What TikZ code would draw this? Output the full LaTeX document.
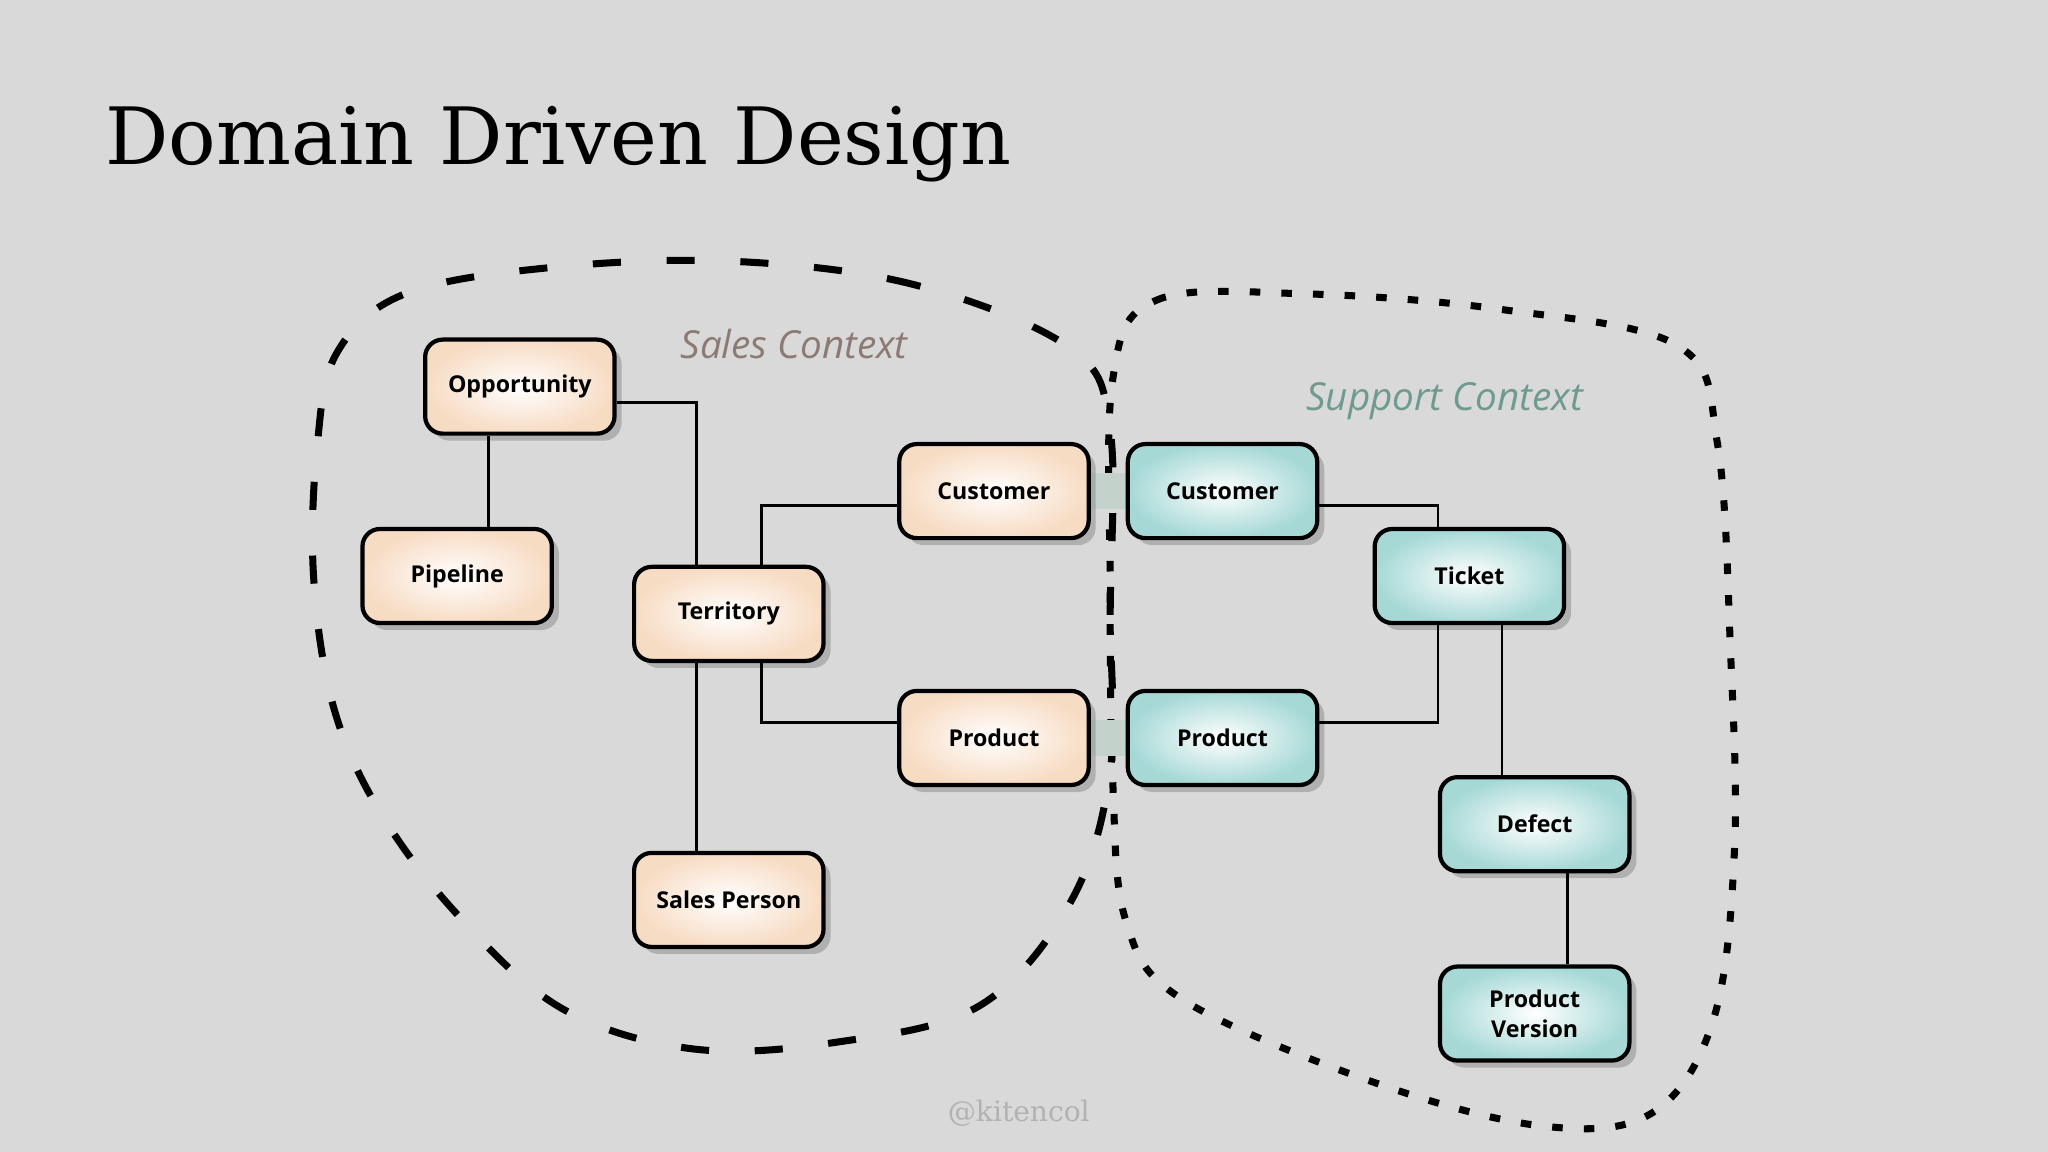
\documentclass[tikz,border=0pt]{standalone}
\usepackage{fontspec}
\setmainfont{DejaVu Serif}
\newfontfamily\boxfont{Open Sans}
\usetikzlibrary{shadows}
\definecolor{bg}{HTML}{D9D9D9}
\definecolor{peach}{HTML}{F7DCC4}
\definecolor{teal}{HTML}{A6D9D6}
\definecolor{bridge}{HTML}{C3D3CB}
\definecolor{salescol}{HTML}{8C7B74}
\definecolor{supportcol}{HTML}{6F9A8F}
\tikzset{
  entity/.style={draw, very thick, rounded corners=5pt, minimum width=145\px, minimum height=72\px,
    align=center, font=\boxfont\bfseries\fontsize{6.6}{8.5}\selectfont,
    drop shadow={shadow xshift=2pt, shadow yshift=-2pt, opacity=0.45}},
  sales/.style={entity, inner color=white, outer color=peach},
  support/.style={entity, inner color=white, outer color=teal},
  link/.style={thick},
  ctx/.style={font=\boxfont\itshape\fontsize{11}{13}\selectfont}
}
\newcommand{\px}{*0.013061cm}
\begin{document}
\begin{tikzpicture}[x=0.013061cm, y=-0.013061cm]
  \fill[bg] (0,0) rectangle (1568,882);
  \useasboundingbox (0,0) rectangle (1568,882);

  \node[anchor=base west, inner sep=0pt, font=\fontsize{22.5}{27}\selectfont] at (80,126) (title) {Domain Driven Design};

  % context boundaries
  \draw[line width=2pt, dash pattern=on 8pt off 13pt] plot[smooth cycle, tension=0.6] coordinates
    {(820,267) (700,218) (560,200) (420,205) (310,225) (258,270) (243,340) (240,440) (255,540)
     (290,620) (350,700) (430,772) (530,803) (640,798) (750,770) (820,690) (850,590) (850,470) (850,330)};
  \draw[line width=2pt, dash pattern=on 3pt off 6pt] plot[smooth cycle, tension=0.6] coordinates
    {(852,290) (885,230) (1000,225) (1150,237) (1285,265) (1315,340) (1325,500) (1328,650) (1312,780)
     (1265,852) (1180,862) (1050,828) (905,765) (862,705) (852,600) (850,450)};

  \node[ctx, text=salescol] at (608,263) (salesctx) {Sales Context};
  \node[ctx, text=supportcol] at (1106,307) (supportctx) {Support Context};

  % shared kernel bridges
  \fill[bridge] (830,362) rectangle (868,390);
  \fill[bridge] (830,551) rectangle (868,579);

  % sales entities
  \node[sales] at (398,296) (opportunity) {Opportunity};
  \node[sales] at (350,441) (pipeline) {Pipeline};
  \node[sales] at (558,470) (territory) {Territory};
  \node[sales] at (761,376) (customerS) {Customer};
  \node[sales] at (761,565) (productS) {Product};
  \node[sales] at (558,689) (salesperson) {Sales Person};

  % support entities
  \node[support] at (936,376) (customerT) {Customer};
  \node[support] at (936,565) (productT) {Product};
  \node[support] at (1125,441) (ticket) {Ticket};
  \node[support] at (1175,631) (defect) {Defect};
  \node[support] at (1175,776) (version) {Product\\Version};

  \draw[link] (opportunity.east |- 0,308) -| (territory.north -| 533,0);
  \draw[link] (opportunity.south -| 374,0) -- (pipeline.north -| 374,0);
  \draw[link] (territory.north -| 583,0) |- (customerS.west |- 0,387);
  \draw[link] (territory.south -| 583,0) |- (productS.west |- 0,553);
  \draw[link] (territory.south -| 533,0) -- (salesperson.north -| 533,0);
  \draw[link] (customerT.east |- 0,387) -| (ticket.north -| 1101,0);
  \draw[link] (ticket.south -| 1101,0) |- (productT.east |- 0,553);
  \draw[link] (ticket.south -| 1150,0) -- (defect.north -| 1150,0);
  \draw[link] (defect.south -| 1200,0) -- (version.north -| 1200,0);

  \node[text=black!30, font=\fontsize{8}{9}\selectfont] at (780,852) (credit) {@kitencol};
\end{tikzpicture}
\end{document}
